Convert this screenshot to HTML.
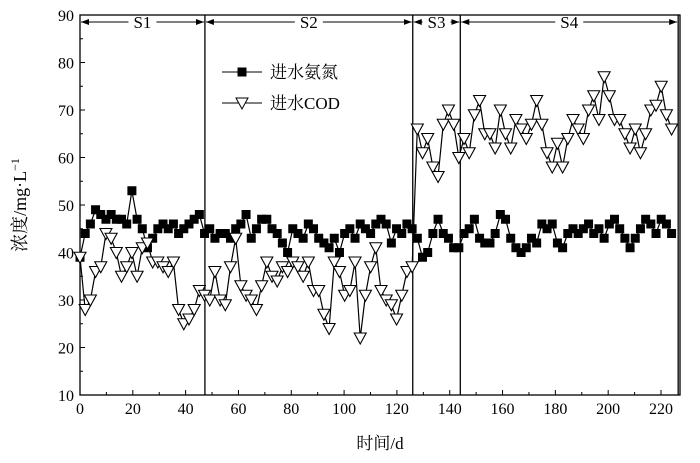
<!DOCTYPE html>
<html><head><meta charset="utf-8"><style>
body{margin:0;background:#fff}
svg{display:block;font-family:"Liberation Serif","Noto Serif CJK SC",serif}
</style></head><body>
<svg id="chart" width="700" height="463" viewBox="0 0 700 463" xmlns="http://www.w3.org/2000/svg">
<g id="axes"></g><g id="marks"></g>
</svg>
<script>
const nh3S1=[39,44,46,49,48,47,48,47,47,46,53,47,45,41,43,45,46,45,46,44,45,46,47,48,44];
const nh3S2=[45,43,44,44,43,45,46,48,43,45,47,47,45,44,42,40,45,44,43,46,45,43,42,41,43,40,44,45,43,46,45,44,46,47,46,42,45,44,46,45];
const nh3S3=[43,39,40,44,47,44,43,41,41];
const nh3S4=[44,45,47,43,42,42,44,48,47,43,41,40,41,43,42,46,45,46,42,41,44,45,44,45,46,44,45,43,46,47,45,43,41,43,45,47,46,44,47,46,44];
const codS1=[39,28,30,36,37,44,43,40,35,37,40,35,41,42,38,38,37,36,38,28,25,26,28,32,31];
const codS2=[30,36,30,29,37,43,33,31,30,28,33,38,35,34,37,36,38,37,35,38,32,32,27,24,38,36,31,32,38,22,31,37,41,32,30,29,26,31,36,37];
const codS3=[66,61,64,58,56,67,70,67,60];
const codS4=[64,61,69,72,65,65,62,70,65,62,68,66,64,67,72,67,61,58,63,58,64,68,66,64,70,73,68,77,73,68,68,65,62,66,61,65,70,71,75,69,66];
const dayStep=1.965;
const xTicks=[0,20,40,60,80,100,120,140,160,180,200,220];
const yTicks=[10,20,30,40,50,60,70,80,90];
const stageBounds=[0,47.3,126,144,226.5];
const stageNames=["S1","S2","S3","S4"];

const NS="http://www.w3.org/2000/svg";
const X0=80,X1=680,Y0=395,Y1=15;
const xs=d=>80+d*(661-80)/220;
const ys=v=>395-(v-10)*(380/80);
const axes=document.getElementById('axes'),marks=document.getElementById('marks');
function mk(tag,attrs,parent,txt){const e=document.createElementNS(NS,tag);for(const k in attrs)e.setAttribute(k,attrs[k]);if(txt!==undefined)e.textContent=txt;parent.appendChild(e);return e;}

let f=mk('rect',{x:X0,y:Y1,width:X1-X0,height:Y0-Y1,fill:'none',stroke:'#000','stroke-width':1.3},axes);


xTicks.forEach(t=>{const x=xs(t);
 mk('line',{x1:x,y1:Y0,x2:x,y2:Y0-5,stroke:'#000'},axes);
 const l=mk('text',{x:x,y:Y0+19,'font-size':16,'text-anchor':'middle'},axes,t);
 
 });
for(let t=10;t<=220;t+=20){const x=xs(t);mk('line',{x1:x,y1:Y0,x2:x,y2:Y0-3,stroke:'#000'},axes);}
yTicks.forEach(t=>{const y=ys(t);
 mk('line',{x1:X0,y1:y,x2:X0+5,y2:y,stroke:'#000'},axes);
 const l=mk('text',{x:X0-6,y:y+6,'font-size':16,'text-anchor':'end'},axes,t);
 
 });
for(let t=15;t<90;t+=10){const y=ys(t);mk('line',{x1:X0,y1:y,x2:X0+3,y2:y,stroke:'#000'},axes);}
let xt=mk('text',{x:380,y:449,'font-size':17,'text-anchor':'middle'},axes,'时间/d');


let yt=mk('text',{x:0,y:0,'font-size':18,'text-anchor':'middle',transform:'translate(26,205) rotate(-90)'},axes);


yt.innerHTML='浓度/mg·L<tspan font-size="12" dy="-7">−1</tspan>';

const ay=22;
mk('defs',{},axes).innerHTML='<marker id="ar" markerWidth="8" markerHeight="6" refX="8" refY="3" orient="auto-start-reverse"><path d="M0,0 L8,3 L0,6 z" fill="#000"/></marker>';
for(let i=1;i<stageBounds.length;i++){const x=xs(stageBounds[i]);
 const l=mk('line',{x1:x,y1:Y1,x2:x,y2:Y0,stroke:'#000','stroke-width':1.3},axes);
 
 }
stageNames.forEach((n,i)=>{const a=xs(stageBounds[i]),b=xs(stageBounds[i+1]),m=(a+b)/2;
 const w=n.length*10+8;
 mk('line',{x1:m-w/2,y1:ay,x2:a+1,y2:ay,stroke:'#000','marker-end':'url(#ar)'},axes);
 mk('line',{x1:m+w/2,y1:ay,x2:b-1,y2:ay,stroke:'#000','marker-end':'url(#ar)'},axes);
 const t=mk('text',{x:m,y:ay+6,'font-size':17,'text-anchor':'middle'},axes,n);
 
 });

function series(vals,name,kind){
 const pts=vals.map((v,i)=>[xs(i*dayStep),ys(v)]);
 const pl=mk('polyline',{points:pts.map(p=>p.join(',')).join(' '),fill:'none',stroke:'#000','stroke-width':1.2},marks);
 
 
 pts.forEach(([x,y])=>{let m;
  if(kind==='sq'){m=mk('rect',{x:x-4.5,y:y-4.5,width:9,height:9,fill:'#000'},marks);}
  else{m=mk('polygon',{points:`${x-6},${y-5} ${x+6},${y-5} ${x},${y+6}`,fill:'#fff',stroke:'#000','stroke-width':1.1},marks);}
  
  });
}
const nh3=[...nh3S1,...nh3S2,...nh3S3,...nh3S4];
const cod=[...codS1,...codS2,...codS3,...codS4];
series(nh3,'ammonia','sq');
series(cod,'cod','tri');

const lg=mk('g',{},marks);


mk('line',{x1:222,y1:72,x2:262,y2:72,stroke:'#000'},lg);
mk('rect',{x:237.5,y:67.5,width:9,height:9,fill:'#000'},lg);
let t1=mk('text',{x:270,y:78,'font-size':17},lg,'进水氨氮');


mk('line',{x1:222,y1:103,x2:262,y2:103,stroke:'#000'},lg);
mk('polygon',{points:'236,98 248,98 242,109',fill:'#fff',stroke:'#000'},lg);
let t2=mk('text',{x:270,y:109,'font-size':17},lg,'进水COD');


</script>
</body></html>
